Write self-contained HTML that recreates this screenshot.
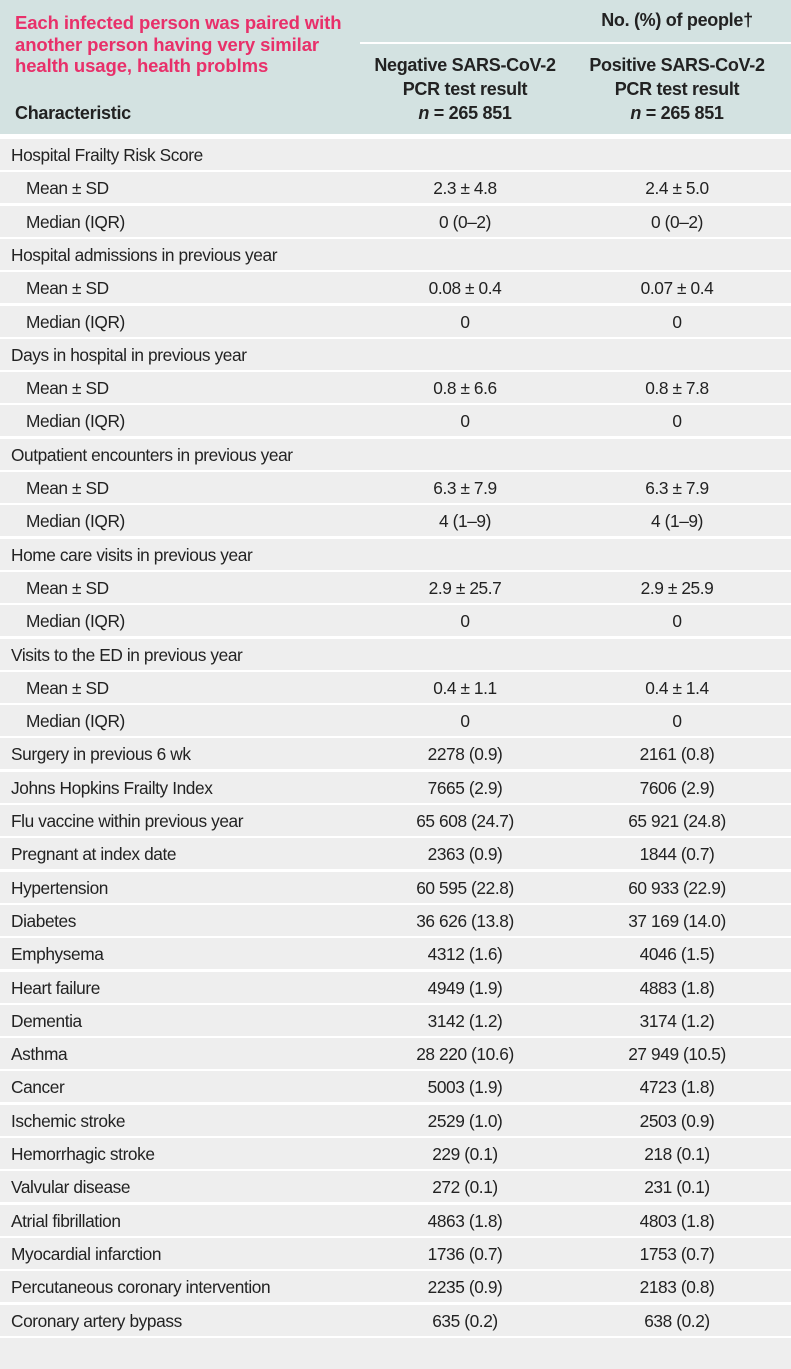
<!DOCTYPE html>
<html><head><meta charset="utf-8"><style>
*{margin:0;padding:0;box-sizing:border-box}
body{width:791px;height:1349px;background:#fff;position:relative;overflow:hidden;font-family:"Liberation Sans",sans-serif;color:#222}
.hd{position:absolute;left:0;top:0;width:791px;height:134px;background:#d3e2e1}
.pink{position:absolute;left:15px;top:12px;font-weight:bold;font-size:18.5px;line-height:21.5px;color:#e8306a;letter-spacing:-0.1px}
.hl{position:absolute;left:360px;top:42px;width:431px;height:2px;background:#fff}
.ht{position:absolute;font-weight:bold;font-size:18px;text-align:center;line-height:24px;letter-spacing:-0.3px}
.row{position:absolute;left:0;width:791px;height:31px;background:#eeeeee;font-size:17.3px;letter-spacing:-0.4px}
.row span{position:absolute;top:6px;white-space:nowrap}
.c1{left:465px;transform:translateX(-50%)}
.c2{left:677px;transform:translateX(-50%)}
</style></head><body>
<div class="hd"></div>
<div class="pink">Each infected person was paired with<br>another person having very similar<br>health usage, health problms</div>
<div class="ht" style="left:560px;width:234px;top:8px">No. (%) of people†</div>
<div class="hl"></div>
<div class="ht" style="left:360px;width:210px;top:53px">Negative SARS-CoV-2<br>PCR test result<br><i>n</i> = 265 851</div>
<div class="ht" style="left:572px;width:210px;top:53px">Positive SARS-CoV-2<br>PCR test result<br><i>n</i> = 265 851</div>
<div class="ht" style="left:15px;top:101px">Characteristic</div>
<div class="row" style="top:139px"><span style="left:11px">Hospital Frailty Risk Score</span></div>
<div class="row" style="top:172.3px"><span style="left:26px">Mean ± SD</span><span class="c1">2.3 ± 4.8</span><span class="c2">2.4 ± 5.0</span></div>
<div class="row" style="top:205.6px"><span style="left:26px">Median (IQR)</span><span class="c1">0 (0–2)</span><span class="c2">0 (0–2)</span></div>
<div class="row" style="top:238.9px"><span style="left:11px">Hospital admissions in previous year</span></div>
<div class="row" style="top:272.2px"><span style="left:26px">Mean ± SD</span><span class="c1">0.08 ± 0.4</span><span class="c2">0.07 ± 0.4</span></div>
<div class="row" style="top:305.5px"><span style="left:26px">Median (IQR)</span><span class="c1">0</span><span class="c2">0</span></div>
<div class="row" style="top:338.8px"><span style="left:11px">Days in hospital in previous year</span></div>
<div class="row" style="top:372.1px"><span style="left:26px">Mean ± SD</span><span class="c1">0.8 ± 6.6</span><span class="c2">0.8 ± 7.8</span></div>
<div class="row" style="top:405.4px"><span style="left:26px">Median (IQR)</span><span class="c1">0</span><span class="c2">0</span></div>
<div class="row" style="top:438.7px"><span style="left:11px">Outpatient encounters in previous year</span></div>
<div class="row" style="top:472px"><span style="left:26px">Mean ± SD</span><span class="c1">6.3 ± 7.9</span><span class="c2">6.3 ± 7.9</span></div>
<div class="row" style="top:505.3px"><span style="left:26px">Median (IQR)</span><span class="c1">4 (1–9)</span><span class="c2">4 (1–9)</span></div>
<div class="row" style="top:538.6px"><span style="left:11px">Home care visits in previous year</span></div>
<div class="row" style="top:571.9px"><span style="left:26px">Mean ± SD</span><span class="c1">2.9 ± 25.7</span><span class="c2">2.9 ± 25.9</span></div>
<div class="row" style="top:605.2px"><span style="left:26px">Median (IQR)</span><span class="c1">0</span><span class="c2">0</span></div>
<div class="row" style="top:638.5px"><span style="left:11px">Visits to the ED in previous year</span></div>
<div class="row" style="top:671.8px"><span style="left:26px">Mean ± SD</span><span class="c1">0.4 ± 1.1</span><span class="c2">0.4 ± 1.4</span></div>
<div class="row" style="top:705.1px"><span style="left:26px">Median (IQR)</span><span class="c1">0</span><span class="c2">0</span></div>
<div class="row" style="top:738.4px"><span style="left:11px">Surgery in previous 6 wk</span><span class="c1">2278 (0.9)</span><span class="c2">2161 (0.8)</span></div>
<div class="row" style="top:771.7px"><span style="left:11px">Johns Hopkins Frailty Index</span><span class="c1">7665 (2.9)</span><span class="c2">7606 (2.9)</span></div>
<div class="row" style="top:805px"><span style="left:11px">Flu vaccine within previous year</span><span class="c1">65 608 (24.7)</span><span class="c2">65 921 (24.8)</span></div>
<div class="row" style="top:838.3px"><span style="left:11px">Pregnant at index date</span><span class="c1">2363 (0.9)</span><span class="c2">1844 (0.7)</span></div>
<div class="row" style="top:871.6px"><span style="left:11px">Hypertension</span><span class="c1">60 595 (22.8)</span><span class="c2">60 933 (22.9)</span></div>
<div class="row" style="top:904.9px"><span style="left:11px">Diabetes</span><span class="c1">36 626 (13.8)</span><span class="c2">37 169 (14.0)</span></div>
<div class="row" style="top:938.2px"><span style="left:11px">Emphysema</span><span class="c1">4312 (1.6)</span><span class="c2">4046 (1.5)</span></div>
<div class="row" style="top:971.5px"><span style="left:11px">Heart failure</span><span class="c1">4949 (1.9)</span><span class="c2">4883 (1.8)</span></div>
<div class="row" style="top:1004.8px"><span style="left:11px">Dementia</span><span class="c1">3142 (1.2)</span><span class="c2">3174 (1.2)</span></div>
<div class="row" style="top:1038.1px"><span style="left:11px">Asthma</span><span class="c1">28 220 (10.6)</span><span class="c2">27 949 (10.5)</span></div>
<div class="row" style="top:1071.4px"><span style="left:11px">Cancer</span><span class="c1">5003 (1.9)</span><span class="c2">4723 (1.8)</span></div>
<div class="row" style="top:1104.7px"><span style="left:11px">Ischemic stroke</span><span class="c1">2529 (1.0)</span><span class="c2">2503 (0.9)</span></div>
<div class="row" style="top:1138px"><span style="left:11px">Hemorrhagic stroke</span><span class="c1">229 (0.1)</span><span class="c2">218 (0.1)</span></div>
<div class="row" style="top:1171.3px"><span style="left:11px">Valvular disease</span><span class="c1">272 (0.1)</span><span class="c2">231 (0.1)</span></div>
<div class="row" style="top:1204.6px"><span style="left:11px">Atrial fibrillation</span><span class="c1">4863 (1.8)</span><span class="c2">4803 (1.8)</span></div>
<div class="row" style="top:1237.9px"><span style="left:11px">Myocardial infarction</span><span class="c1">1736 (0.7)</span><span class="c2">1753 (0.7)</span></div>
<div class="row" style="top:1271.2px"><span style="left:11px">Percutaneous coronary intervention</span><span class="c1">2235 (0.9)</span><span class="c2">2183 (0.8)</span></div>
<div class="row" style="top:1304.5px"><span style="left:11px">Coronary artery bypass</span><span class="c1">635 (0.2)</span><span class="c2">638 (0.2)</span></div>
<div class="row" style="top:1337.8px"></div>
</body></html>
